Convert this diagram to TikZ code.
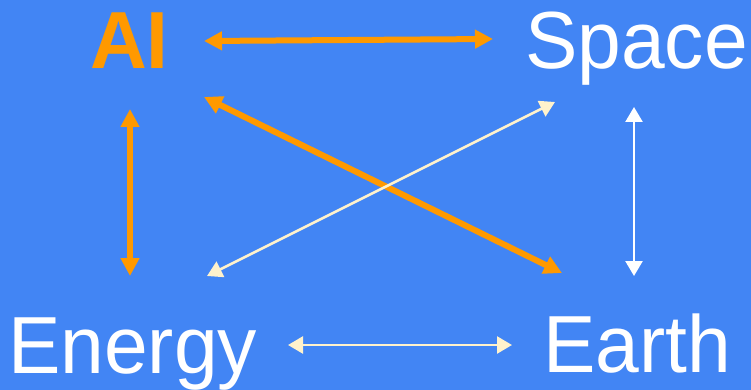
\documentclass[tikz,border=0pt]{standalone}
\usepackage{fontspec}
\setmainfont{Liberation Sans}[FakeStretch=0.97]
\usetikzlibrary{arrows.meta}
\definecolor{bg}{HTML}{4285F4}
\definecolor{org}{HTML}{FF9900}
\definecolor{crm}{HTML}{FFF2CC}
\begin{document}
\begin{tikzpicture}[x=1pt,y=-1pt,
  lbl/.style={inner sep=0pt,anchor=base west,text=white,font=\fontsize{81}{81}\selectfont},
  thick arr/.style={draw=org,line width=6pt,{Triangle[length=18pt,width=18pt]}-{Triangle[length=18pt,width=18pt]}},
  thin arr/.style={line width=2.5pt,{Triangle[length=15pt,width=17pt]}-{Triangle[length=15pt,width=17pt]}}]
\fill[bg] (0,0) rectangle (751,390);
\useasboundingbox (0,0) rectangle (751,390);
\node[lbl,text=org,font=\fontsize{81}{81}\selectfont\bfseries] (AI) at (90,69) {AI};
\node[lbl] (Space) at (525,69) {Space};
\node[lbl] (Energy) at (8,373) {Energy};
\node[lbl] (Earth) at (543,372) {Earth};
\coordinate (ais1) at (204,41);
\coordinate (ais2) at (493,39);
\coordinate (aie1) at (130,109);
\coordinate (aie2) at (130,276);
\coordinate (aiea1) at (204,97);
\coordinate (aiea2) at (562,273);
\coordinate (es1) at (207,276);
\coordinate (es2) at (555,102);
\coordinate (se1) at (634,107);
\coordinate (se2) at (634,276);
\coordinate (ee1) at (288,345);
\coordinate (ee2) at (512,345);
\draw[thick arr] (ais1) -- (ais2);
\draw[thick arr] (aie1) -- (aie2);
\draw[thick arr] (aiea1) -- (aiea2);
\draw[thin arr,draw=crm] (es1) -- (es2);
\draw[thin arr,draw=white] (se1) -- (se2);
\draw[thin arr,draw=crm] (ee1) -- (ee2);
\end{tikzpicture}
\end{document}
